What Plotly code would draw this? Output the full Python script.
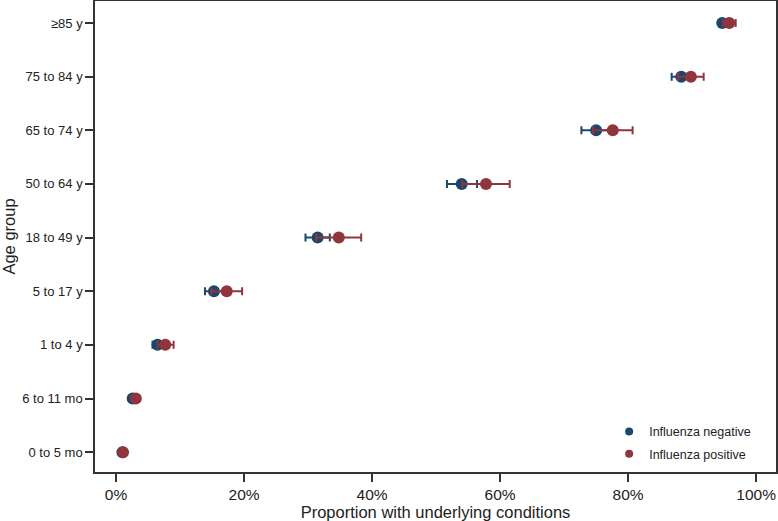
import plotly.graph_objects as go

age_groups = ["0 to 5 mo", "6 to 11 mo", "1 to 4 y", "5 to 17 y", "18 to 49 y",
              "50 to 64 y", "65 to 74 y", "75 to 84 y", "≥85 y"]

neg_val = [1.0, 2.6, 6.5, 15.3, 31.5, 54.0, 75.0, 88.3, 94.7]
neg_lo = [0.8, 2.2, 5.7, 13.9, 29.6, 51.7, 72.7, 86.8, 94.2]
neg_hi = [1.2, 3.0, 7.3, 16.8, 33.4, 56.4, 77.3, 89.8, 95.2]

pos_val = [1.1, 3.1, 7.7, 17.3, 34.8, 57.8, 77.6, 89.8, 95.8]
pos_lo = [0.9, 2.7, 6.5, 14.9, 31.3, 54.1, 74.5, 87.8, 94.8]
pos_hi = [1.4, 3.5, 9.0, 19.7, 38.3, 61.5, 80.7, 91.8, 96.8]

x_ticks = [0, 20, 40, 60, 80, 100]
x_tick_labels = ["0%", "20%", "40%", "60%", "80%", "100%"]

NEG = "#1a476f"
POS = "#90353b"
FONT = "Liberation Sans, Arial, Helvetica, sans-serif"
TXT = "#222222"

fig = go.Figure()


def add_series(name, vals, lo, hi, color):
    fig.add_trace(go.Scatter(
        x=vals, y=age_groups, mode="markers", name=name, showlegend=False,
        marker=dict(color=color, size=12, line=dict(width=0)),
        error_x=dict(type="data", symmetric=False,
                     array=[h - v for h, v in zip(hi, vals)],
                     arrayminus=[v - l for v, l in zip(vals, lo)],
                     color=color, thickness=2, width=4),
        hoverinfo="x+y+name",
    ))


add_series("Influenza negative", neg_val, neg_lo, neg_hi, NEG)
add_series("Influenza positive", pos_val, pos_lo, pos_hi, POS)

for i, (name, color) in enumerate([("Influenza negative", NEG), ("Influenza positive", POS)]):
    fig.add_trace(go.Scatter(x=[None], y=[None], mode="markers", name=name,
                             legendgroup=f"g{i}",
                             marker=dict(color=color, size=8)))

fig.update_layout(
    width=778, height=521,
    margin=dict(l=95, r=2, t=1, b=49, autoexpand=False),
    paper_bgcolor="white", plot_bgcolor="white",
    font=dict(family=FONT, color=TXT),
    legend=dict(x=0.755, y=0.1168, xanchor="left", yanchor="top",
                font=dict(size=12.5, family=FONT, color=TXT),
                bgcolor="rgba(0,0,0,0)", traceorder="grouped",
                tracegroupgap=3, itemwidth=30),
    showlegend=True,
)

fig.update_xaxes(
    range=[-3.28, 103.1], tickmode="array", tickvals=x_ticks, ticktext=x_tick_labels,
    showgrid=False, zeroline=False, automargin=False,
    showline=True, linecolor="#333333", linewidth=1.5, mirror=True,
    ticks="outside", ticklen=8, tickwidth=1.5, tickcolor="#333333",
    tickfont=dict(size=15.5, family=FONT, color=TXT),
    title=dict(text="Proportion with underlying conditions",
               font=dict(size=16.5, family=FONT, color=TXT), standoff=2),
)

fig.update_yaxes(
    type="category", categoryorder="array", categoryarray=age_groups,
    range=[-0.37, 8.41],
    showgrid=False, zeroline=False, automargin=False,
    showline=True, linecolor="#333333", linewidth=1.5, mirror=True,
    ticks="outside", ticklen=8, tickwidth=1.5, tickcolor="#333333",
    tickfont=dict(size=13, family=FONT, color=TXT),
    title=dict(text="Age group", font=dict(size=16.5, family=FONT, color=TXT),
               standoff=8),
)

fig.write_html("out.html", config={"displayModeBar": False},
               post_script="document.body.style.margin='0';document.body.style.padding='0';")
